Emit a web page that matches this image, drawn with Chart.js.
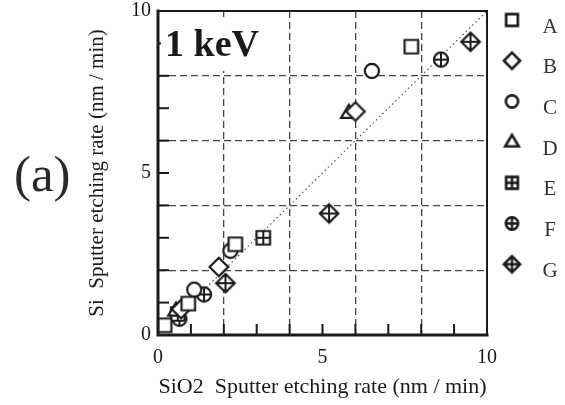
<!DOCTYPE html>
<html>
<head>
<meta charset="utf-8">
<script src="https://cdn.jsdelivr.net/npm/chart.js@4.4.0/dist/chart.umd.min.js"></script>
<style>
  html, body { margin: 0; padding: 0; background: #fff; }
  #wrap { width: 565px; height: 405px; }
</style>
</head>
<body>
<div id="wrap"><canvas id="chart"></canvas></div>
<script>
// Series names and marker kinds
const seriesNames = ['A', 'B', 'C', 'D', 'E', 'F', 'G'];
const markerKinds = ['square', 'diamond', 'circle', 'triangle', 'squareCross', 'circleCross', 'diamondCross'];

// SiO2 rate (x) and Si rate (y), nm/min
const xA = [0.2, 0.92, 2.35, 7.7];
const yA = [0.3, 0.97, 2.8, 8.9];
const xB = [0.7, 1.85, 6.0];
const yB = [0.8, 2.1, 6.9];
const xC = [1.1, 2.2, 6.5];
const yC = [1.4, 2.6, 8.15];
const xD = [0.55, 5.8];
const yD = [0.75, 6.85];
const xE = [0.6, 3.2];
const yE = [0.65, 3.0];
const xF = [0.65, 1.4, 8.6];
const yF = [0.5, 1.25, 8.5];
const xG = [2.05, 5.2, 9.5];
const yG = [1.6, 3.75, 9.05];

// y = x reference line
const diagonal = [0, 10];

// Tick labels shown on both axes
const tickLabels = [0, 5, 10];
const gridValues = [2, 4, 6, 8];

const seriesX = [xA, xB, xC, xD, xE, xF, xG];
const seriesY = [yA, yB, yC, yD, yE, yF, yG];

const INK = '#1a1a1a';
const SERIF = '"Liberation Serif", "DejaVu Serif", serif';

// draw a marker onto its own small canvas, used as pointStyle
function makeMarker(kind, size, lw) {
    const pad = lw + 3;
    const dim = Math.ceil(size + pad * 2);
    const c = document.createElement('canvas');
    c.width = dim; c.height = dim;
    const g = c.getContext('2d');
    const m = dim / 2;
    g.strokeStyle = INK;
    g.fillStyle = '#fff';
    g.lineWidth = lw;
    g.beginPath();
    let r = size / 2;
    if (kind.startsWith('square')) {
        r = size * 0.45;
        g.rect(m - r, m - r, r * 2, r * 2);
    } else if (kind.startsWith('diamond')) {
        r = size * 0.62;
        g.moveTo(m, m - r); g.lineTo(m + r, m); g.lineTo(m, m + r); g.lineTo(m - r, m); g.closePath();
    } else if (kind.startsWith('circle')) {
        r = size * 0.47;
        g.arc(m, m, r, 0, Math.PI * 2);
    } else if (kind === 'triangle') {
        r = size * 0.55;
        g.moveTo(m, m - r); g.lineTo(m + r * 0.95, m + r * 0.6); g.lineTo(m - r * 0.95, m + r * 0.6); g.closePath();
    }
    g.fill();
    g.stroke();
    if (kind.endsWith('Cross')) {
        g.beginPath();
        g.moveTo(m - r, m); g.lineTo(m + r, m);
        g.moveTo(m, m - r); g.lineTo(m, m + r);
        g.lineWidth = lw * 0.9;
        g.stroke();
    }
    return c;
}

const plotMarkers = markerKinds.map(k => makeMarker(k, 15, 2.2));
const legendMarkers = markerKinds.map(k => makeMarker(k, 13, 2.6));

const datasets = seriesNames.map((name, i) => ({
    label: name,
    data: seriesX[i].map((x, j) => ({ x: x, y: seriesY[i][j] })),
    pointStyle: plotMarkers[i],
    showLine: false
}));

datasets.push({
    label: 'y = x',
    data: diagonal.map(v => ({ x: v, y: v })),
    showLine: true,
    borderColor: '#555',
    borderWidth: 1.2,
    borderDash: [1.5, 3],
    pointRadius: 0
});

// borders, inward ticks, annotation text and the legend
const decorPlugin = {
    id: 'decor',
    afterDraw(chart) {
        const ctx = chart.ctx;
        const a = chart.chartArea;
        const xs = chart.scales.x, ys = chart.scales.y;
        ctx.save();
        ctx.strokeStyle = INK;
        ctx.lineCap = 'square';

        // minor ticks every 1 unit, pointing inward
        ctx.lineWidth = 2;
        for (let v = 1; v < 10; v++) {
            const px = xs.getPixelForValue(v);
            ctx.beginPath(); ctx.moveTo(px, a.bottom); ctx.lineTo(px, a.bottom - 10); ctx.stroke();
            const py = ys.getPixelForValue(v);
            ctx.beginPath(); ctx.moveTo(a.left, py); ctx.lineTo(a.left + 10, py); ctx.stroke();
        }

        // frame
        ctx.lineWidth = 2;
        ctx.beginPath(); ctx.moveTo(a.left, a.top); ctx.lineTo(a.right, a.top); ctx.lineTo(a.right, a.bottom); ctx.stroke();
        ctx.lineWidth = 3;
        ctx.beginPath(); ctx.moveTo(a.left, a.top); ctx.lineTo(a.left, a.bottom); ctx.lineTo(a.right, a.bottom); ctx.stroke();

        // energy label
        ctx.fillStyle = '#fff';
        ctx.fillRect(a.left + 3, a.top + 6, 110, 54);
        ctx.fillStyle = INK;
        ctx.font = 'bold 38px ' + SERIF;
        ctx.textAlign = 'left';
        ctx.textBaseline = 'alphabetic';
        ctx.fillText('1 keV', a.left + 7, a.top + 45);

        // panel letter
        ctx.fillStyle = '#2a2a2a';
        ctx.font = '51px ' + SERIF;
        ctx.textBaseline = 'middle';
        ctx.fillText('(a)', 14, 178);

        // legend
        const lx = 512, lt = 20, step = 40.7;
        ctx.font = '21px ' + SERIF;
        ctx.textAlign = 'center';
        ctx.fillStyle = '#333';
        seriesNames.forEach((name, i) => {
            const cy = lt + i * step;
            const img = legendMarkers[i];
            ctx.drawImage(img, lx - img.width / 2, cy - img.height / 2);
            ctx.fillText(name, lx + 38, cy + 7);
        });
        ctx.restore();
    }
};

const gridColor = c => gridValues.includes(c.tick.value) ? '#444' : 'rgba(0,0,0,0)';

new Chart(document.getElementById('chart'), {
    type: 'scatter',
    data: { datasets: datasets },
    plugins: [decorPlugin],
    options: {
        responsive: true,
        maintainAspectRatio: false,
        animation: false,
        events: [],
        layout: { padding: { left: 0, top: 11, right: 78, bottom: 0 } },
        plugins: { legend: { display: false }, tooltip: { enabled: false } },
        scales: {
            x: {
                type: 'linear', min: 0, max: 10,
                border: { display: false, dash: [7, 4] },
                grid: { color: gridColor, lineWidth: 1.3, drawTicks: false },
                ticks: {
                    stepSize: 1, autoSkip: false, maxRotation: 0, padding: 11,
                    color: INK, font: { family: SERIF, size: 20 },
                    callback: v => tickLabels.includes(v) ? String(v) : ''
                },
                title: {
                    display: true, text: 'SiO2  Sputter etching rate (nm / min)',
                    color: INK, font: { family: SERIF, size: 22 }, padding: { top: 0, bottom: 5 }
                },
                afterFit(s) { s.height = 70; s.paddingLeft = 0; s.paddingRight = 0; }
            },
            y: {
                type: 'linear', min: 0, max: 10,
                border: { display: false, dash: [7, 4] },
                grid: { color: gridColor, lineWidth: 1.3, drawTicks: false },
                ticks: {
                    stepSize: 1, autoSkip: false, padding: 7,
                    color: INK, font: { family: SERIF, size: 20 },
                    callback: v => tickLabels.includes(v) ? String(v) : ''
                },
                title: {
                    display: true, text: 'Si  Sputter etching rate (nm / min)',
                    color: INK, font: { family: SERIF, size: 21 }, padding: { top: 85, bottom: 0 }
                },
                afterFit(s) { s.width = 158; s.paddingTop = 0; s.paddingBottom = 0; }
            }
        }
    }
});
</script>
</body>
</html>
